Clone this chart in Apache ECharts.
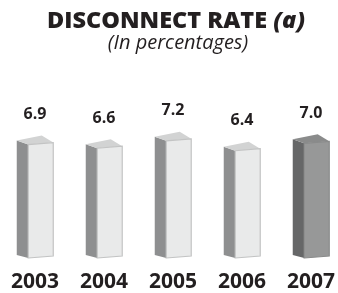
<!DOCTYPE html>
<html>
<head>
<meta charset="utf-8">
<script src="https://cdn.jsdelivr.net/npm/echarts@6/dist/echarts.min.js"></script>
<style>
  html, body { margin: 0; padding: 0; background: #fff; }
  #myChart { width: 338px; height: 293px; }
</style>
</head>
<body>
<div id="myChart"></div>
<script>
// data
const years = ["2003", "2004", "2005", "2006", "2007"];
const rates = [6.9, 6.6, 7.2, 6.4, 7.0];
const highlightIndex = 4; // last year drawn darker

const lightFace = { front: "#e9eaea", side: "#8e8f90", top: "#d2d3d3", edge: "#c3c4c4" };
const darkFace = { front: "#979898", side: "#666768", top: "#8a8b8b", edge: "#8a8b8b" };

function renderBox(params, api) {
  const idx = api.value(0);
  const val = api.value(1);
  const top = api.coord([idx, val]);
  const base = api.coord([idx, -2.3]);
  const cx = top[0];
  const yt = top[1];
  const yb = base[1];
  const w = 25;    // front face width
  const dx = 11.5; // depth offset to the left
  const x0 = cx - (w + dx) / 2 + dx;
  const x1 = x0 + w;
  const c = idx === highlightIndex ? darkFace : lightFace;

  return {
    type: "group",
    children: [
      {
        type: "polygon",
        shape: { points: [[x0 - dx, yb - 2], [x0, yb + 1], [x0, yt + 1], [x0 - dx, yt - 3]] },
        style: { fill: c.side }
      },
      {
        type: "polygon",
        shape: { points: [[x0 - dx, yt - 3], [x0, yt + 1], [x1, yt - 1], [x1 - dx, yt - 8]] },
        style: { fill: c.top }
      },
      {
        type: "polygon",
        shape: { points: [[x0, yb + 1], [x1, yb - 1], [x1, yt - 1], [x0, yt + 1]] },
        style: { fill: c.front, stroke: c.edge, lineWidth: 1.2 }
      },
      {
        type: "text",
        x: cx,
        y: yt - 29,
        style: {
          text: val.toFixed(1),
          fill: "#231f20",
          font: "bold 16px 'Open Sans'",
          align: "center",
          verticalAlign: "middle"
        }
      }
    ]
  };
}

let ECharts = echarts.init(document.getElementById("myChart"));
ECharts.setOption({
  animation: false,
  title: [
    {
      text: "{b|DISCONNECT RATE }{i|(a)}",
      left: 171,
      textAlign: "center",
      top: 4,
      textStyle: {
        rich: {
          b: { fontFamily: "Open Sans", fontWeight: 800, fontSize: 23.5, color: "#231f20" },
          i: { fontFamily: "Open Sans", fontWeight: 800, fontStyle: "italic", fontSize: 23.5, color: "#231f20" }
        }
      }
    },
    {
      text: "(In percentages)",
      left: 173,
      textAlign: "center",
      top: 28,
      textStyle: { fontFamily: "Open Sans", fontStyle: "italic", fontWeight: "normal", fontSize: 20, color: "#231f20" }
    }
  ],
  grid: { left: 35, right: 26.5, top: 130, bottom: 34 },
  xAxis: {
    type: "category",
    data: years,
    boundaryGap: false,
    axisLine: { show: false },
    axisTick: { show: false },
    axisLabel: {
      margin: 15,
      fontFamily: "Open Sans",
      fontWeight: "bold",
      fontSize: 21,
      color: "#231f20"
    }
  },
  yAxis: {
    type: "value",
    min: -2.3,
    max: 8,
    show: false
  },
  series: [
    {
      type: "custom",
      renderItem: renderBox,
      data: rates.map((v, i) => [i, v]),
      clip: false
    }
  ]
});
</script>
</body>
</html>
